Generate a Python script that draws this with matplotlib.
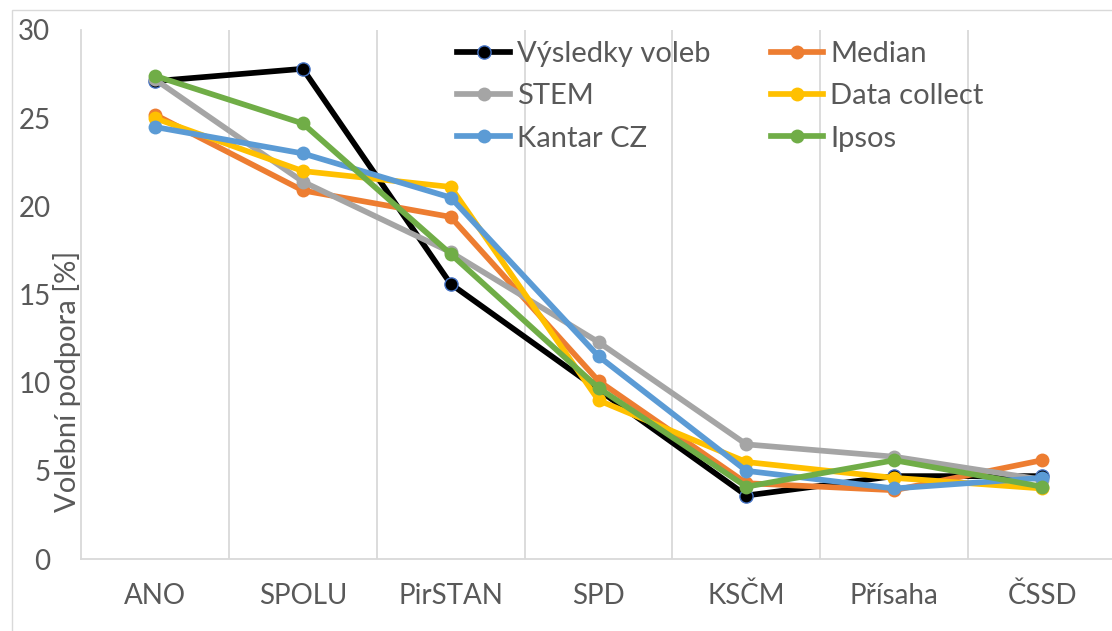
"""Volební podpora: výsledky voleb vs. průzkumy agentur."""

import matplotlib

matplotlib.use("Agg")
import matplotlib.pyplot as plt
from matplotlib.patches import Rectangle

categories = ["ANO", "SPOLU", "PirSTAN", "SPD", "KSČM", "Přísaha", "ČSSD"]

vysledky_voleb = [27.1, 27.8, 15.6, 9.6, 3.6, 4.7, 4.7]
median = [25.2, 20.9, 19.4, 10.1, 4.3, 3.9, 5.6]
stem = [27.2, 21.4, 17.4, 12.3, 6.5, 5.8, 4.5]
data_collect = [25.0, 22.0, 21.1, 9.0, 5.5, 4.6, 4.0]
kantar = [24.5, 23.0, 20.5, 11.5, 5.0, 4.0, 4.6]
ipsos = [27.4, 24.7, 17.3, 9.7, 4.1, 5.6, 4.1]

series = [
    ("Výsledky voleb", vysledky_voleb, "#000000"),
    ("Median", median, "#ED7D31"),
    ("STEM", stem, "#A5A5A5"),
    ("Data collect", data_collect, "#FFC000"),
    ("Kantar CZ", kantar, "#5B9BD5"),
    ("Ipsos", ipsos, "#70AD47"),
]

plt.rcParams["font.family"] = ["Lato", "DejaVu Sans"]

W, H = 1112, 631
fig = plt.figure(figsize=(W / 100, H / 100), dpi=100)
fig.patches.append(
    Rectangle((12 / W, -0.1), 1.2, 1 - 10 / H + 0.1, transform=fig.transFigure,
              fill=False, edgecolor="#D9D9D9", linewidth=1.0)
)
ax = fig.add_axes([81 / W, 1 - 559 / H, (1116 - 81) / W, (559 - 30) / H])

x = list(range(len(categories)))
handles = []
for name, values, color in series:
    if name == "Výsledky voleb":
        line, = ax.plot(x, values, color=color, linewidth=4.1, marker="o", markersize=9.5,
                        markerfacecolor="#000000", markeredgecolor="#4472C4",
                        markeredgewidth=1.0, label=name)
    else:
        line, = ax.plot(x, values, color=color, linewidth=4.1, marker="o", markersize=10,
                        markeredgewidth=0, label=name)
    handles.append(line)

ax.set_xlim(-0.5, len(categories) - 0.5)
ax.set_ylim(0, 30)
ax.set_yticks(range(0, 31, 5))
ax.set_xticks(x)
ax.set_xticklabels(categories)
ax.set_xticks([i + 0.5 for i in range(len(categories) - 1)], minor=True)
ax.grid(True, which="minor", axis="x", color="#D9D9D9", linewidth=1.3)
ax.tick_params(axis="both", which="both", length=0, labelsize=20, colors="#595959")
ax.tick_params(axis="x", pad=17)
ax.tick_params(axis="y", pad=22)
for side in ("top", "right"):
    ax.spines[side].set_visible(False)
for side in ("left", "bottom"):
    ax.spines[side].set_color("#D9D9D9")
    ax.spines[side].set_linewidth(1.3)

ax.set_ylabel("Volební podpora [%]", fontsize=21, color="#595959")
ax.yaxis.set_label_coords(0.0, 0.336)

order = [0, 2, 4, 1, 3, 5]
leg = ax.legend([handles[i] for i in order], [series[i][0] for i in order],
                ncol=2, frameon=False, loc="upper left",
                bbox_to_anchor=(437 / W, 1 - 21 / H), bbox_transform=fig.transFigure,
                fontsize=21, handlelength=1.8, handletextpad=0.25,
                columnspacing=2.05, labelspacing=0.55, labelcolor="#595959",
                borderpad=0.2)

fig.savefig("out.png", dpi=100)
